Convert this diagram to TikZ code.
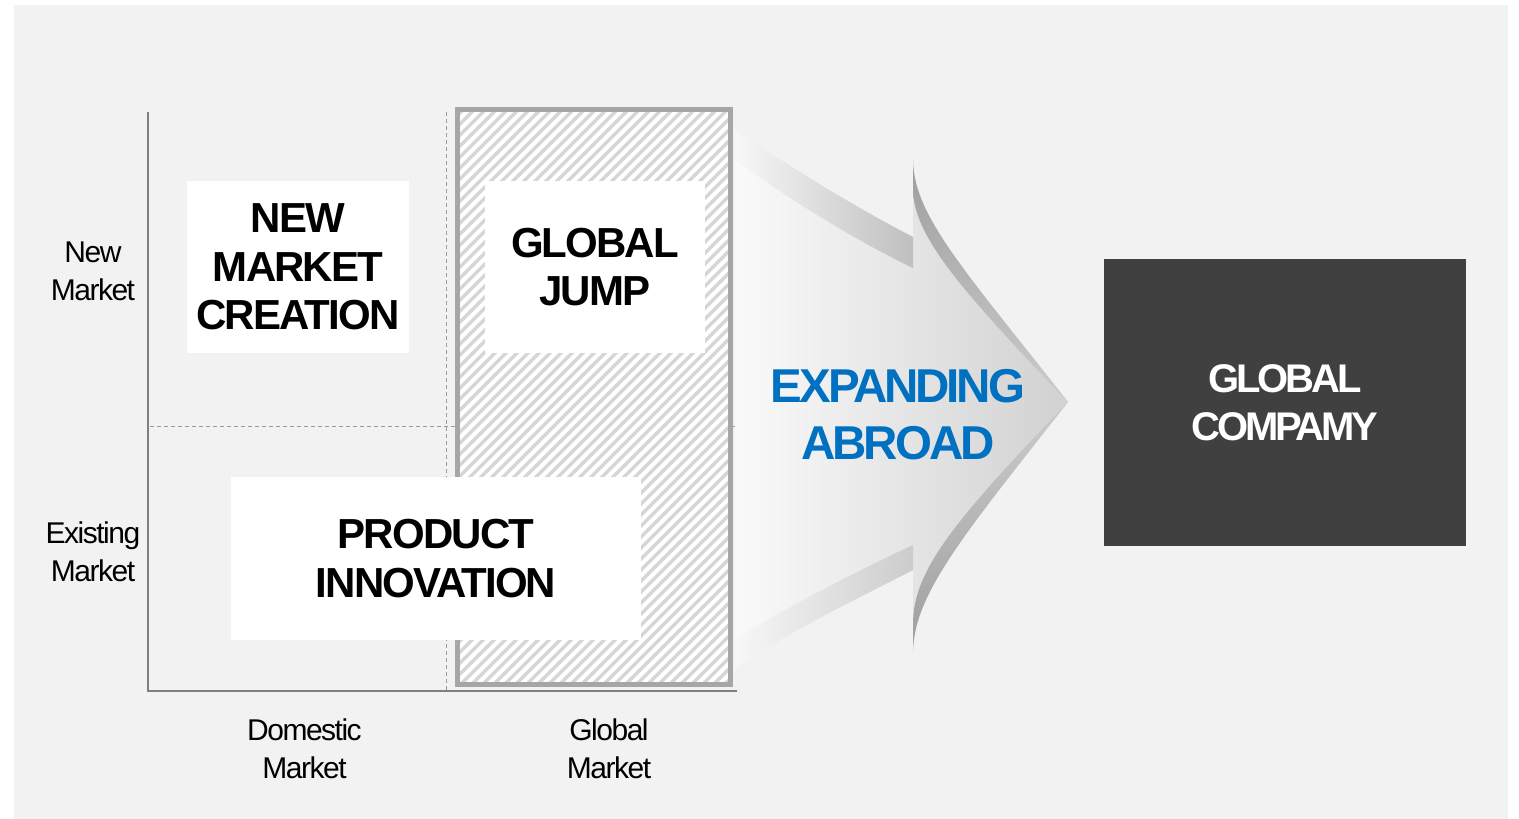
\documentclass[tikz,border=0pt]{standalone}
\usepackage{fontspec}
\setmainfont{Liberation Sans}
\newfontfamily\axisfont{Liberation Sans}[LetterSpace=-5.0]
\newfontfamily\cellfont{Liberation Sans}[LetterSpace=-4.5]
\newfontfamily\arrowfont{Liberation Sans}[LetterSpace=-6.5]
\newfontfamily\goalfont{Liberation Sans}[LetterSpace=-8.0]
\usetikzlibrary{positioning}

\definecolor{bggray}{HTML}{F2F2F2}
\definecolor{framegray}{HTML}{A6A6A6}
\definecolor{hatchgray}{HTML}{D6D6D6}
\definecolor{axisgray}{HTML}{808080}
\definecolor{dashgray}{HTML}{9A9A9A}
\definecolor{darkbox}{HTML}{404040}
\definecolor{abroadblue}{HTML}{0070C0}

\begin{document}
\begin{tikzpicture}[x=1pt, y=-1pt, on grid,
    axislabel/.style={align=center, inner sep=0pt, font=\axisfont\fontsize{30}{38}\selectfont},
    cell/.style={fill=white, inner sep=0pt, align=center, font=\cellfont\bfseries\fontsize{42}{48.5}\selectfont},
    guide/.style={dashgray, line width=1pt, dash pattern=on 4pt off 3pt},
    axis/.style={axisgray, line width=1.3pt},
    hatchline/.style={hatchgray, line width=3.5pt}]
    \useasboundingbox (0,0) rectangle (1519,819);
    \fill[bggray] (14,5) rectangle (1508,819);

    % quadrant grid
    \coordinate (origin) at (148,691);
    \coordinate (ytop) at (148,112);
    \coordinate (xend) at (737,691);
    \coordinate (vtop) at (446,112);
    \coordinate (vbot) at (446,691);
    \coordinate (hleft) at (150,426);
    \coordinate (hright) at (737,426);
    \draw[guide] (vtop) -- (vbot);
    \draw[guide] (hleft) -- (hright);
    \draw[axis] (ytop) -- (origin) -- (xend);

    % hatched global column
    \begin{scope}
        \clip (457,109) rectangle (731,685);
        \fill[white] (457,109) rectangle (731,685);
        \foreach \k in {0,...,80}
            \draw[hatchline] ({-150+11*\k},690) -- ++(600,-600);
    \end{scope}
    \draw[framegray, line width=5pt] (457.5,109.5) rectangle (730.5,684.5);

    % big arrow
    \shade[left color=black!2, right color=black!18]
        (735,130) .. controls (795,170) and (855,207) .. (913,237)
        -- (913,160) .. controls (914,215) and (960,265) .. (1068,402)
        .. controls (960,539) and (914,595) .. (913,652)
        -- (913,570) .. controls (855,600) and (795,628) .. (735,668) -- cycle;
    \shade[left color=black!3, right color=black!25]
        (735,130) .. controls (795,170) and (855,207) .. (913,237)
        -- (913,268) .. controls (855,240) and (790,200) .. (735,160) -- cycle;
    \shade[left color=black!3, right color=black!20]
        (735,668) .. controls (795,628) and (855,600) .. (913,570)
        -- (913,545) .. controls (855,572) and (790,605) .. (735,640) -- cycle;
    \shade[top color=black!38, bottom color=black!20]
        (913,160) .. controls (914,215) and (960,265) .. (1068,402)
        .. controls (955,284) and (913,234) .. (913,188) -- cycle;
    \shade[top color=black!20, bottom color=black!38]
        (913,652) .. controls (914,595) and (960,539) .. (1068,402)
        .. controls (955,520) and (913,570) .. (913,624) -- cycle;

    % boxes
    \node[cell, minimum width=222, minimum height=172] (newmarket) at (298,267) {NEW\\MARKET\\CREATION};
    \node[cell, minimum width=220, minimum height=172] (globaljump) at (595,267) {GLOBAL\\JUMP};
    \node[cell, minimum width=410, minimum height=163] (product) at (436,558.5) {PRODUCT\\INNOVATION};
    \node[fill=darkbox, text=white, minimum width=362, minimum height=287, inner sep=0pt, align=center,
          font=\goalfont\bfseries\fontsize{40}{47.7}\selectfont] (company) at (1285,402.5) {GLOBAL\\COMPAMY};
    \node[text=abroadblue, align=center, inner sep=0pt,
          font=\arrowfont\bfseries\fontsize{47.5}{57}\selectfont] (abroad) at (898,414.5) {EXPANDING\\ABROAD};

    % axis labels
    \node[axislabel] (newlbl) at (93,271.4) {New\\Market};
    \node[axislabel] (existlbl) at (93,551.8) {Existing\\Market};
    \node[axislabel] (domlbl) at (304.5,748.3) {Domestic\\Market};
    \node[axislabel] (globlbl) [right=304.5 of domlbl] {Global\\Market};
\end{tikzpicture}
\end{document}
